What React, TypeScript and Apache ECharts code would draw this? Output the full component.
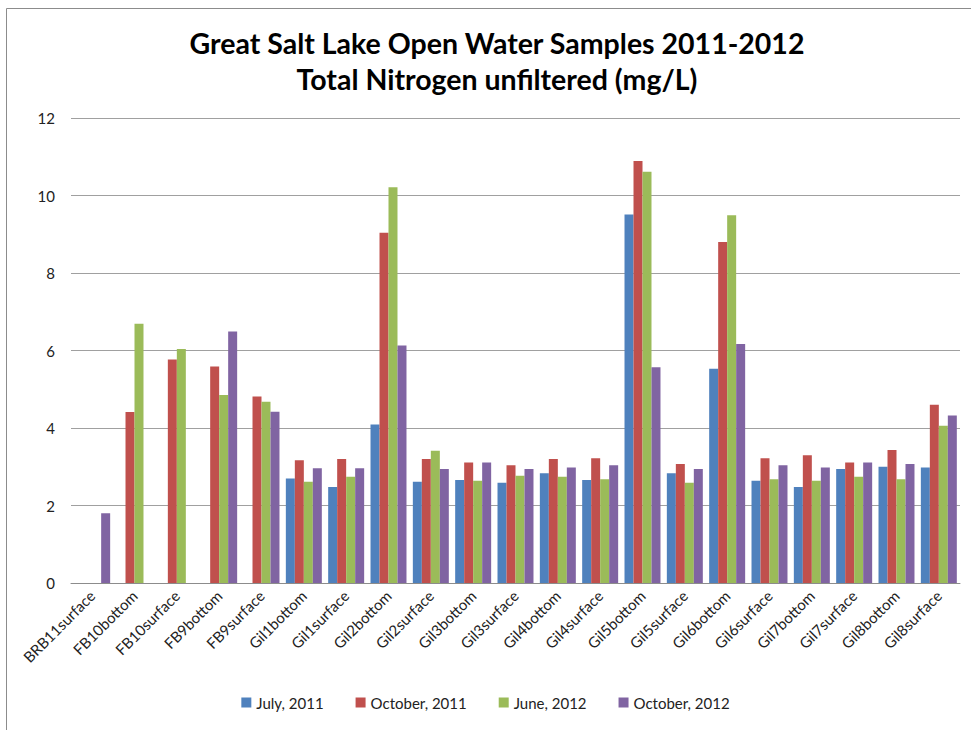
import React, { useEffect, useRef } from "react";
import * as echarts from "echarts";

const categories = [
  "BRB11surface", "FB10bottom", "FB10surface", "FB9bottom", "FB9surface",
  "Gil1bottom", "Gil1surface", "Gil2bottom", "Gil2surface", "Gil3bottom",
  "Gil3surface", "Gil4bottom", "Gil4surface", "Gil5bottom", "Gil5surface",
  "Gil6bottom", "Gil6surface", "Gil7bottom", "Gil7surface", "Gil8bottom", "Gil8surface",
];

const july2011 = [null, null, null, null, null, 2.70, 2.48, 4.09, 2.61, 2.66, 2.59, 2.83, 2.66, 9.51, 2.83, 5.53, 2.64, 2.48, 2.94, 3.00, 2.98];
const october2011 = [null, 4.41, 5.77, 5.59, 4.81, 3.17, 3.20, 9.04, 3.20, 3.11, 3.04, 3.20, 3.22, 10.89, 3.07, 8.80, 3.22, 3.30, 3.11, 3.43, 4.60];
const june2012 = [null, 6.69, 6.04, 4.85, 4.68, 2.61, 2.74, 10.21, 3.41, 2.64, 2.77, 2.74, 2.68, 10.61, 2.59, 9.49, 2.68, 2.64, 2.74, 2.68, 4.06];
const october2012 = [1.80, null, null, 6.49, 4.42, 2.96, 2.96, 6.13, 2.94, 3.11, 2.94, 2.98, 3.04, 5.57, 2.94, 6.17, 3.04, 2.98, 3.11, 3.07, 4.32];

const seriesNames = ["July, 2011", "October, 2011", "June, 2012", "October, 2012"];
const colors = ["#4F81BD", "#C0504D", "#9BBB59", "#8064A2"];
const yTicks = [0, 2, 4, 6, 8, 10, 12];

export default function App() {
  const ref = useRef<HTMLDivElement>(null);
  useEffect(() => {
    if (!ref.current) return;
    const chart = echarts.init(ref.current, null, { renderer: "svg" });
    const font = "Lato, 'Open Sans', sans-serif";
    const data = [july2011, october2011, june2012, october2012];
    chart.setOption({
      animation: false,
      backgroundColor: "#ffffff",
      color: colors,
      title: {
        text: "Great Salt Lake Open Water Samples 2011-2012\nTotal Nitrogen unfiltered (mg/L)",
        left: 492,
        textAlign: "center",
        top: 20,
        textStyle: { fontFamily: font, fontSize: 28.5, fontWeight: "bold", color: "#000", lineHeight: 36 },
      },
      graphic: [
        {
          type: "rect",
          shape: { x: 6.5, y: 8.5, width: 1000, height: 1000 },
          style: { fill: "none", stroke: "#8c8c8c", lineWidth: 1 },
          silent: true,
        },
      ],
      legend: {
        data: seriesNames,
        bottom: 15,
        left: "center",
        itemWidth: 10,
        itemHeight: 10,
        itemGap: 32,
        icon: "rect",
        textStyle: { fontFamily: font, fontSize: 15, color: "#222" },
      },
      grid: { left: 71, right: 11, top: 118, bottom: 147, containLabel: false },
      xAxis: {
        type: "category",
        data: categories,
        axisLine: { lineStyle: { color: "#8c8c8c" } },
        axisTick: { show: false },
        axisLabel: { rotate: 45, interval: 0, fontFamily: font, fontSize: 15, color: "#222", margin: 10 },
      },
      yAxis: {
        type: "value",
        min: yTicks[0],
        max: yTicks[yTicks.length - 1],
        interval: 2,
        axisLine: { show: false },
        axisTick: { show: false },
        axisLabel: { fontFamily: font, fontSize: 15, color: "#222", margin: 16 },
        splitLine: { lineStyle: { color: "#a0a0a0", width: 1 } },
      },
      series: seriesNames.map((name, i) => ({
        name,
        type: "bar",
        data: data[i],
        barGap: "0%",
        barCategoryGap: "15%",
        itemStyle: { color: colors[i] },
      })),
    });
    return () => chart.dispose();
  }, []);
  return (
    <div
      ref={ref}
      style={{ position: "fixed", left: 0, top: 0, width: 971, height: 730 }}
    />
  );
}
